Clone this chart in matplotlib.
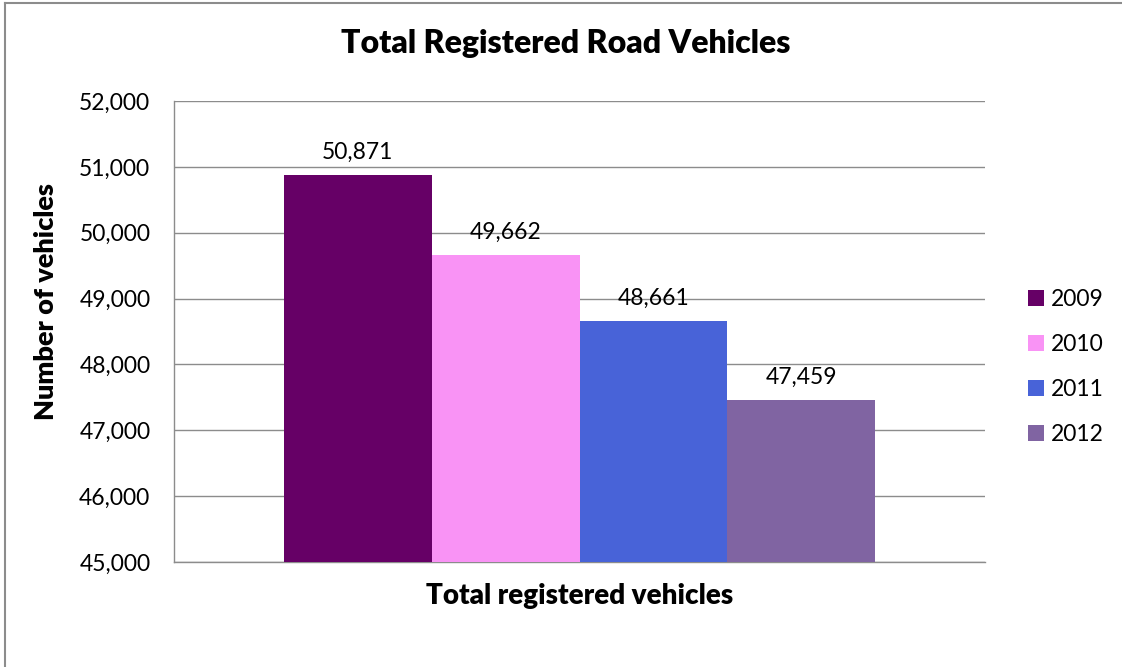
import matplotlib
matplotlib.use("Agg")
import matplotlib.pyplot as plt
from matplotlib.lines import Line2D

years = ["2009", "2010", "2011", "2012"]
values = [50871, 49662, 48661, 47459]
colors = ["#660066", "#F993F5", "#4863D8", "#8064A2"]
yticks = [45000, 46000, 47000, 48000, 49000, 50000, 51000, 52000]

plt.rcParams['font.family'] = ['Lato', 'DejaVu Sans']

fig = plt.figure(figsize=(11.22, 6.67), dpi=100)
ax = fig.add_axes([174/1122, 1-562/667, (985-174)/1122, (562-101)/667])

positions = [-1.5, -0.5, 0.5, 1.5]
for pos, v, c, y in zip(positions, values, colors, years):
    ax.bar(pos, v - 45000, bottom=45000, width=1.0, color=c, label=y, zorder=3)
    ax.text(pos, v + 190, f"{v:,}", ha='center', va='bottom', fontsize=16.5)

ax.set_xlim(-2.744, 2.744)
ax.set_ylim(45000, 52000)
ax.set_yticks(yticks)
ax.set_yticklabels([f"{t:,}" for t in yticks], fontsize=16.5)
ax.set_xticks([])
ax.tick_params(axis='y', length=0, pad=17)
ax.grid(axis='y', color='#8c8c8c', linewidth=1, zorder=0)
for s in ['top', 'right']:
    ax.spines[s].set_visible(False)
for s in ['left', 'bottom']:
    ax.spines[s].set_color('#8c8c8c')
    ax.spines[s].set_linewidth(1)

ax.set_xlabel("Total registered vehicles", fontsize=20, fontweight='heavy', labelpad=15)
ax.set_ylabel("Number of vehicles", fontsize=19.5, fontweight='heavy')
ax.yaxis.set_label_coords(-0.143, 0.566)
fig.text(566/1122, 1-43/667, "Total Registered Road Vehicles", ha='center', va='center',
         fontsize=23, fontweight='heavy')

leg = ax.legend(loc='center left', bbox_to_anchor=(1.028, 0.423), frameon=False,
                fontsize=16.5, handlelength=0.7, handleheight=0.7, labelspacing=1.05,
                handletextpad=0.3)

# figure border (left and top)
fig.add_artist(Line2D([5/1122, 5/1122], [0, 1-3/667], color='#8c8c8c', linewidth=1.5))
fig.add_artist(Line2D([5/1122, 1], [1-3/667, 1-3/667], color='#8c8c8c', linewidth=1.5))

fig.savefig("out.png", dpi=100)
